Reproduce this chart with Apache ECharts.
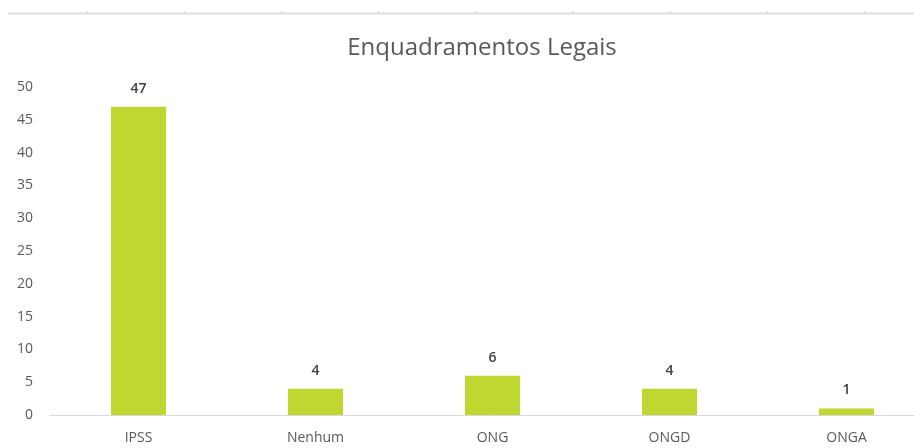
<!DOCTYPE html>
<html>
<head>
<meta charset="utf-8">
<script src="https://cdn.jsdelivr.net/npm/echarts@6/dist/echarts.min.js"></script>
<style>
  html, body { margin: 0; padding: 0; background: #ffffff; overflow: hidden; width: 914px; height: 448px; }
  /* plot area runs past the right edge of the page, as in the original workbook view */
  #chart { width: 935px; height: 448px; }
</style>
</head>
<body>
<div id="chart"></div>
<script>
const categories = ['IPSS', 'Nenhum', 'ONG', 'ONGD', 'ONGA'];
const counts = [47, 4, 6, 4, 1];
const yTicks = { min: 0, max: 50, interval: 5 };
const titleText = 'Enquadramentos Legais';

const textColor = '#595959';
const barColor = '#bfd730';
const font = 'Open Sans';

// faint axis strip across the top edge
const stripTicks = [];
for (let i = 0; i < 9; i++) {
  stripTicks.push({
    type: 'line',
    shape: { x1: 87 + i * 97.2, y1: 11, x2: 87 + i * 97.2, y2: 13 },
    style: { stroke: '#d0d0d0', lineWidth: 1 },
    silent: true
  });
}

const chart = echarts.init(document.getElementById('chart'), null, { renderer: 'canvas' });
chart.setOption({
  animation: false,
  backgroundColor: '#ffffff',
  title: {
    text: titleText,
    left: 477,
    top: 31,
    textAlign: 'center',
    textStyle: { fontFamily: font, fontSize: 24, fontWeight: 'normal', color: textColor }
  },
  graphic: [
    {
      type: 'line',
      shape: { x1: 8, y1: 13.5, x2: 935, y2: 13.5 },
      style: { stroke: '#e0e0e0', lineWidth: 2 },
      silent: true
    }
  ].concat(stripTicks),
  grid: { left: 50, right: 0, top: 87, bottom: 33, containLabel: false },
  xAxis: {
    type: 'category',
    data: categories,
    axisLine: { lineStyle: { color: '#d9d9d9', width: 1 } },
    axisTick: { show: false },
    axisLabel: { color: textColor, fontFamily: font, fontSize: 14, margin: 16 }
  },
  yAxis: {
    type: 'value',
    min: yTicks.min,
    max: yTicks.max,
    interval: yTicks.interval,
    axisLine: { show: false },
    axisTick: { show: false },
    splitLine: { show: false },
    axisLabel: { color: textColor, fontFamily: font, fontSize: 14, margin: 17 }
  },
  series: [{
    type: 'bar',
    data: counts,
    barWidth: 55,
    itemStyle: { color: barColor },
    label: {
      show: true,
      position: 'top',
      distance: 11,
      color: '#404040',
      fontFamily: font,
      fontSize: 14,
      fontWeight: 600
    }
  }]
});
</script>
</body>
</html>
